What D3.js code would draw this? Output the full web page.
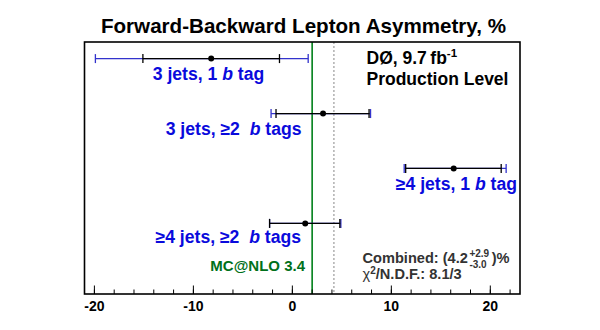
<!DOCTYPE html>
<html><head><meta charset="utf-8">
<script src="https://cdn.jsdelivr.net/npm/d3@7"></script>
<style>body{margin:0;background:#fff}svg{display:block}text{font-family:"Liberation Sans",Arial,sans-serif;font-weight:bold}</style>
</head><body>
<script>
const channels = ["3 jets, 1 b tag","3 jets, \u22652  b tags","\u22654 jets, 1 b tag","\u22654 jets, \u22652  b tags"];
const central  = [-8.2, 3.1, 16.3, 1.3];
const statLow  = [-15.1, -1.65, 11.45, -2.3];
const statHigh = [-1.3, 7.75, 21.1, 4.8];
const totLow   = [-19.9, -2.15, 11.3, -2.3];
const totHigh  = [1.6, 7.9, 21.6, 4.9];
const mcnlo = 2.0;
const combined = 4.2;
const majorTicks = [-20, -10, 0, 10, 20];
const minorTicks = [-20,-18,-16,-14,-12,-10,-8,-6,-4,-2,0,2,4,6,8,10,12,14,16,18,20,22];

const W=600,H=330, L=84.5, R=520, T=42, B=294;
const svg=d3.select("body").append("svg").attr("width",W).attr("height",H);
const x=d3.scaleLinear().domain([-21,23]).range([L,R]);
const y=d3.scaleLinear().domain([0,3]).range([58.6,223.4]);

svg.append("text").attr("x",303.5).attr("y",33).attr("text-anchor","middle").attr("font-size",20.6).attr("fill","#000")
  .text("Forward-Backward Lepton Asymmetry, %");

// vertical lines
svg.append("line").attr("x1",x(mcnlo)).attr("x2",x(mcnlo)).attr("y1",T).attr("y2",B).attr("stroke","#00801a").attr("stroke-width",1.6);
svg.append("line").attr("x1",x(combined)).attr("x2",x(combined)).attr("y1",T).attr("y2",B).attr("stroke","#888").attr("stroke-width",1).attr("stroke-dasharray","2,2");

// error bars
const blue="#3333cc";
channels.forEach((c,i)=>{
  const g=svg.append("g");
  const yy=y(i);
  g.append("line").attr("x1",x(totLow[i])).attr("x2",x(totHigh[i])).attr("y1",yy).attr("y2",yy).attr("stroke",blue).attr("stroke-width",1.3);
  [totLow[i],totHigh[i]].forEach(v=>g.append("line").attr("x1",x(v)).attr("x2",x(v)).attr("y1",yy-4.5).attr("y2",yy+4.5).attr("stroke",blue).attr("stroke-width",1.3));
  g.append("line").attr("x1",x(statLow[i])).attr("x2",x(statHigh[i])).attr("y1",yy).attr("y2",yy).attr("stroke","#000").attr("stroke-width",1.3);
  [statLow[i],statHigh[i]].forEach(v=>g.append("line").attr("x1",x(v)).attr("x2",x(v)).attr("y1",yy-4.5).attr("y2",yy+4.5).attr("stroke","#000").attr("stroke-width",1.3));
  g.append("circle").attr("cx",x(central[i])).attr("cy",yy).attr("r",3).attr("fill","#000");
});

// channel labels
const labPos=[{x:208.5,a:"middle",dy:21.5},{x:301.5,a:"end",dy:21.5},{x:517,a:"end",dy:21.5},{x:301,a:"end",dy:20}];
channels.forEach((c,i)=>{
  const t=svg.append("text").attr("x",labPos[i].x).attr("y",y(i)+labPos[i].dy).attr("text-anchor",labPos[i].a)
    .attr("font-size",17.6).attr("fill","#0a0adc").style("white-space","pre");
  const parts=c.split("b t");
  t.append("tspan").text(parts[0]);
  t.append("tspan").attr("font-style","italic").text("b");
  t.append("tspan").text(" t"+parts[1]);
});

svg.append("text").attr("x",305).attr("y",270.5).attr("text-anchor","end").attr("font-size",15).attr("fill","#00701a").text("MC@NLO 3.4");

// DØ label
const d0=svg.append("text").attr("x",366.5).attr("y",64).attr("font-size",17.5).attr("fill","#000");
d0.append("tspan").text("DØ, 9.7\u2009fb");
d0.append("tspan").attr("font-size",11.5).attr("dy",-7).text("-1");
svg.append("text").attr("x",366.5).attr("y",84.5).attr("font-size",17.5).attr("fill","#000").text("Production Level");

// combined
const cx0=362.5, cy0=262.5, gray="#333";
const cb=svg.append("text").attr("x",cx0).attr("y",cy0).attr("font-size",14.6).attr("fill",gray).text("Combined: (4.2");
const w1=cb.node().getComputedTextLength();
const sup=svg.append("text").attr("x",cx0+w1+1.5).attr("y",cy0-5.5).attr("font-size",10).attr("fill",gray).text("+2.9");
const sub=svg.append("text").attr("x",cx0+w1+1.5).attr("y",cy0+5).attr("font-size",10).attr("fill",gray).text("-3.0");
const w2=Math.max(sup.node().getComputedTextLength(),sub.node().getComputedTextLength());
svg.append("text").attr("x",cx0+w1+w2+4).attr("y",cy0).attr("font-size",14.6).attr("fill",gray).text(")%");

const chi=svg.append("text").attr("x",cx0).attr("y",279).attr("font-size",14.6).attr("fill",gray);
chi.append("tspan").attr("font-weight","normal").text("\u03c7");
chi.append("tspan").attr("font-size",10).attr("dy",-5).text("2");
chi.append("tspan").attr("dy",5).text("/N.D.F.: 8.1/3");

// frame
svg.append("rect").attr("x",L).attr("y",T).attr("width",R-L).attr("height",B-T).attr("fill","none").attr("stroke","#000").attr("stroke-width",1.6);

// ticks
svg.selectAll(".mi").data(minorTicks).enter().append("line").attr("x1",d=>x(d)).attr("x2",d=>x(d)).attr("y1",B).attr("y2",B-4.5).attr("stroke","#000");
svg.selectAll(".ma").data(majorTicks).enter().append("line").attr("x1",d=>x(d)).attr("x2",d=>x(d)).attr("y1",B).attr("y2",B-8.5).attr("stroke","#000");
svg.selectAll(".tl").data(majorTicks).enter().append("text").attr("x",d=>x(d)).attr("y",311).attr("text-anchor","middle").attr("font-size",14).attr("fill","#000").text(d=>d);
</script>
</body></html>
